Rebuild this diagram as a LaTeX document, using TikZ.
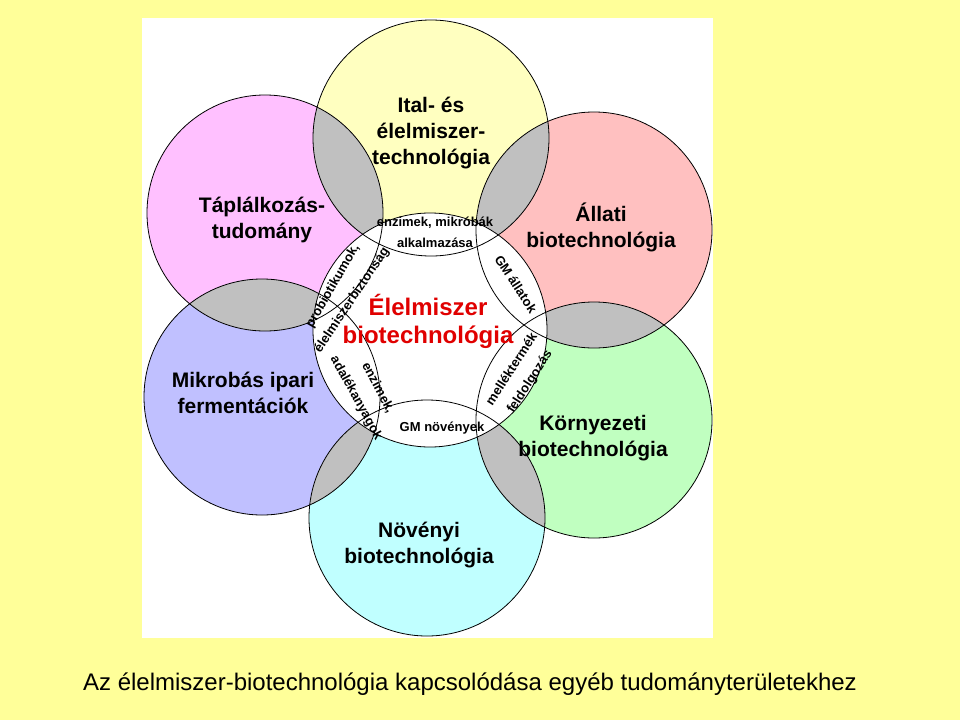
\documentclass[tikz,border=0pt]{standalone}
\usepackage{fontspec}
\setmainfont{Liberation Sans}
\usepackage{xcolor}
\usepackage{tikz}
\definecolor{pageYellow}{HTML}{FFFF99}
\definecolor{italFill}{HTML}{FFFFC0}
\definecolor{taplalFill}{HTML}{FFC0FF}
\definecolor{allatiFill}{HTML}{FFC0C0}
\definecolor{mikrobFill}{HTML}{C0C0FF}
\definecolor{kornyezFill}{HTML}{C0FFC0}
\definecolor{novenyiFill}{HTML}{C0FFFF}
\definecolor{overlapGray}{HTML}{C0C0C0}
\definecolor{coreRed}{HTML}{E00000}

\begin{document}
\begin{tikzpicture}[x=1pt, y=-1pt,
    ring/.style={draw=black, line width=0.8pt},
    bigLabel/.style={font=\bfseries\fontsize{21}{26}\selectfont, align=center},
    smallLabel/.style={font=\bfseries\fontsize{13}{15}\selectfont, inner sep=0pt}]

    \useasboundingbox (0,0) rectangle (960,720);
    \fill[pageYellow] (0,0) rectangle (960,720);
    \fill[white] (142,18) rectangle (713,638);

    % circle centres
    \coordinate (core) at (430,330);
    \coordinate (ital) at (431,138);
    \coordinate (taplal) at (265,213);
    \coordinate (allati) at (594,230);
    \coordinate (mikrob) at (262,397);
    \coordinate (kornyez) at (594,420);
    \coordinate (novenyi) at (427,518);

    \foreach \c/\col in {ital/italFill, taplal/taplalFill, allati/allatiFill,
                         mikrob/mikrobFill, kornyez/kornyezFill, novenyi/novenyiFill}
        \fill[\col] (\c) circle[radius=118pt];

    % grey where neighbours meet
    \foreach \a/\b in {ital/taplal, ital/allati, taplal/mikrob,
                       allati/kornyez, mikrob/novenyi, kornyez/novenyi}{
        \begin{scope}
            \clip (\a) circle[radius=118pt];
            \fill[overlapGray] (\b) circle[radius=118pt];
        \end{scope}
    }
    \fill[white] (core) circle[radius=117pt];

    \foreach \c in {ital, taplal, allati, mikrob, kornyez, novenyi}
        \draw[ring] (\c) circle[radius=118pt];
    \draw[ring] (core) circle[radius=117pt];

    % field names
    \node[bigLabel] (italText) at (431,133) {Ital- és\\élelmiszer-\\technológia};
    \node[bigLabel] (taplalText) at (262,220) {Táplálkozás-\\tudomány};
    \node[bigLabel] (allatiText) at (601,227) {Állati\\biotechnológia};
    \node[bigLabel] (mikrobText) at (243,393) {Mikrobás ipari\\fermentációk};
    \node[bigLabel] (kornyezText) at (593,438) {Környezeti\\biotechnológia};
    \node[bigLabel] (novenyiText) at (419,545) {Növényi\\biotechnológia};
    \node[bigLabel, coreRed, font=\bfseries\fontsize{24}{28}\selectfont]
        (coreText) at (428,321) {Élelmiszer\\biotechnológia};

    % lens texts
    \node[smallLabel] (enzMikr) at (435,223) {enzimek, mikróbák};
    \node[smallLabel] (alkalm) at (435,243) {alkalmazása};
    \node[smallLabel] (gmNov) at (442,428) {GM növények};
    \node[smallLabel, rotate=-57] (gmAll) at (516,284) {GM állatok};
    \node[smallLabel, rotate=57] (mellek) at (511,369) {melléktermék};
    \node[smallLabel, rotate=57] (feldolg) at (530,382) {feldolgozás};
    \node[smallLabel, rotate=60] (probio) at (333,286) {probiotikumok,};
    \node[smallLabel, rotate=56] (biztons) at (352,300) {élelmiszerbiztonság};
    \node[smallLabel, rotate=-62] (enzim) at (378,388) {enzimek,};
    \node[smallLabel, rotate=-61] (adalek) at (356,398) {adalékanyagok};

    \node[font=\fontsize{24}{28}\selectfont] (caption) at (470,684)
        {Az élelmiszer-biotechnológia kapcsolódása egyéb tudományterületekhez};
\end{tikzpicture}
\end{document}
